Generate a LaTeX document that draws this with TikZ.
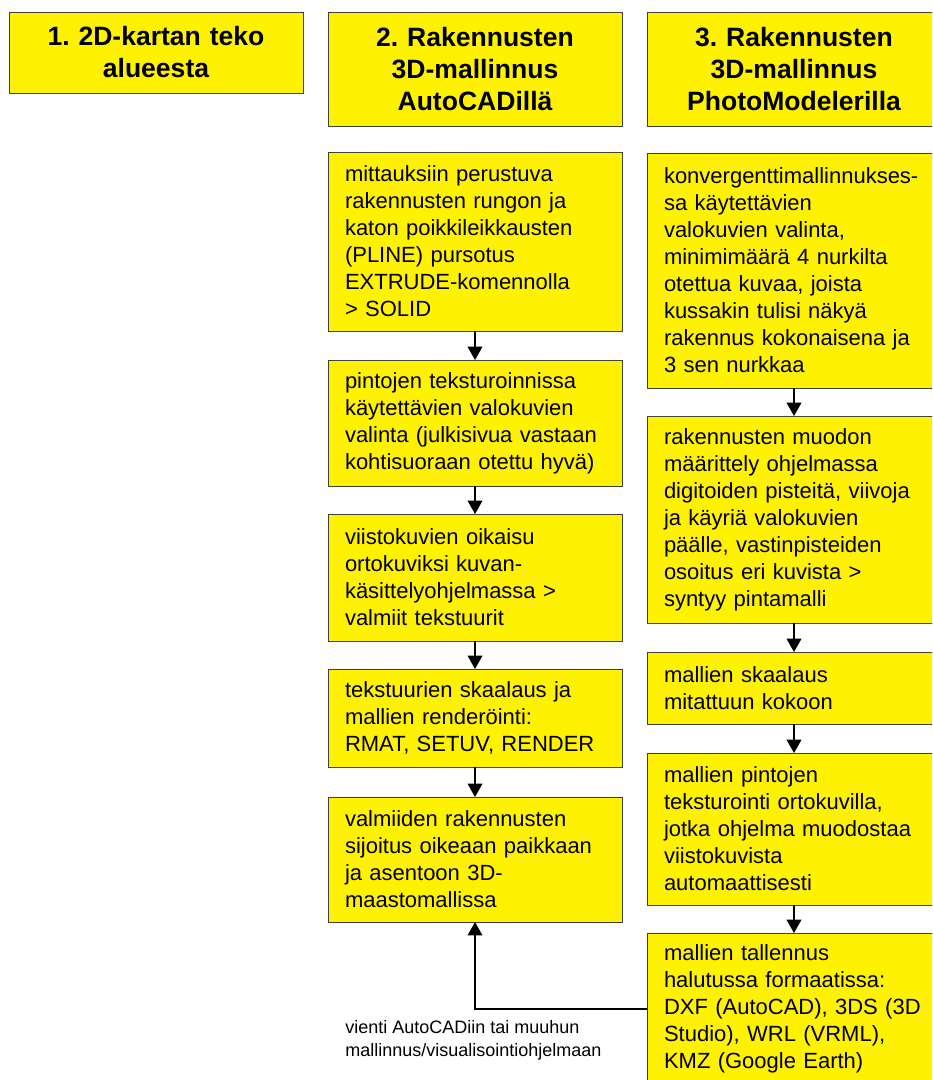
\documentclass[tikz,border=0pt]{standalone}
\usepackage{fontspec}
\setmainfont{Liberation Sans}
\usetikzlibrary{arrows.meta}
\frenchspacing

\tikzset{
	header/.style = {draw = black!75, fill = yellow, anchor = north west,
					 minimum width = 220.5pt, text width = 205pt,
					 align = center, outer sep = 0pt,
					 font = \fontsize{19.9}{24}\selectfont\bfseries},
	phase/.style = {draw = black!75, fill = yellow, anchor = north west,
					minimum width = 220.5pt, text width = 195pt,
					inner xsep = 12.75pt, align = left, outer sep = 0pt,
					font = \fontsize{16.5}{20.25}\selectfont},
	arr/.style = {-{Triangle[width = 11pt, length = 10pt]}, line width = 1.1pt}
}

\begin{document}
\begin{tikzpicture}[x = 0.75pt, y = -0.75pt]

	\clip (0,0) rectangle (932,1080);
	\fill[white] (0,0) rectangle (932,1080);

	% otsikot
	\draw (9,12) node[header, minimum height = 60.75pt] (hdrA)
		{1. 2D-kartan teko\\alueesta};
	\draw (328,12) node[header, minimum height = 85.5pt] (hdrB)
		{2. Rakennusten\\3D-mallinnus\\AutoCADillä};
	\draw (647,12) node[header, minimum height = 85.5pt] (hdrC)
		{3. Rakennusten\\3D-mallinnus\\PhotoModelerilla};

	% AutoCAD-sarake
	\draw (328,152) node[phase, minimum height = 134.25pt] (acadA)
		{mittauksiin perustuva\\rakennusten rungon ja\\katon poikkileikkausten\\(PLINE) pursotus\\EXTRUDE-komennolla\\> SOLID};
	\draw (328,360) node[phase, minimum height = 94.5pt] (acadB)
		{pintojen teksturoinnissa\\käytettävien valokuvien\\valinta (julkisivua vastaan\\kohtisuoraan otettu hyvä)};
	\draw (328,514) node[phase, minimum height = 95.25pt] (acadC)
		{viistokuvien oikaisu\\ortokuviksi kuvan-\\käsittelyohjelmassa >\\valmiit tekstuurit};
	\draw (328,669) node[phase, minimum height = 73.5pt] (acadD)
		{tekstuurien skaalaus ja\\mallien renderöinti:\\RMAT, SETUV, RENDER};
	\draw (328,797) node[phase, minimum height = 93.75pt] (acadE)
		{valmiiden rakennusten\\sijoitus oikeaan paikkaan\\ja asentoon 3D-\\maastomallissa};

	% PhotoModeler-sarake
	\draw (647,153) node[phase, minimum height = 176.25pt] (pmA)
		{konvergenttimallinnukses-\\sa käytettävien\\valokuvien valinta,\\minimimäärä 4 nurkilta\\otettua kuvaa, joista\\kussakin tulisi näkyä\\rakennus kokonaisena ja\\3 sen nurkkaa};
	\draw (647,416) node[phase, minimum height = 155.25pt] (pmB)
		{rakennusten muodon\\määrittely ohjelmassa\\digitoiden pisteitä, viivoja\\ja käyriä valokuvien\\päälle, vastinpisteiden\\osoitus eri kuvista >\\syntyy pintamalli};
	\draw (647,652) node[phase, minimum height = 54pt] (pmC)
		{mallien skaalaus\\mitattuun kokoon};
	\draw (647,753) node[phase, minimum height = 114pt] (pmD)
		{mallien pintojen\\teksturointi ortokuvilla,\\jotka ohjelma muodostaa\\viistokuvista\\automaattisesti};
	\draw (647,933) node[phase, minimum height = 114pt] (pmE)
		{mallien tallennus\\halutussa formaatissa:\\DXF (AutoCAD), 3DS (3D\\Studio), WRL (VRML),\\KMZ (Google Earth)};

	\draw[arr] (acadA) -- (acadB);
	\draw[arr] (acadB) -- (acadC);
	\draw[arr] (acadC) -- (acadD);
	\draw[arr] (acadD) -- (acadE);

	\draw[arr] (pmA) -- (pmB);
	\draw[arr] (pmB) -- (pmC);
	\draw[arr] (pmC) -- (pmD);
	\draw[arr] (pmD) -- (pmE);

	% vienti takaisin AutoCADiin
	\draw[arr, line width = 0.8pt] (pmE.west) -| (acadE.south);
	\draw (345,1020) node[anchor = north west, inner sep = 0pt, align = left,
					 font = \fontsize{13.5}{17.25}\selectfont] (export)
		{vienti AutoCADiin tai muuhun\\mallinnus/visualisointiohjelmaan};
\end{tikzpicture}
\end{document}
